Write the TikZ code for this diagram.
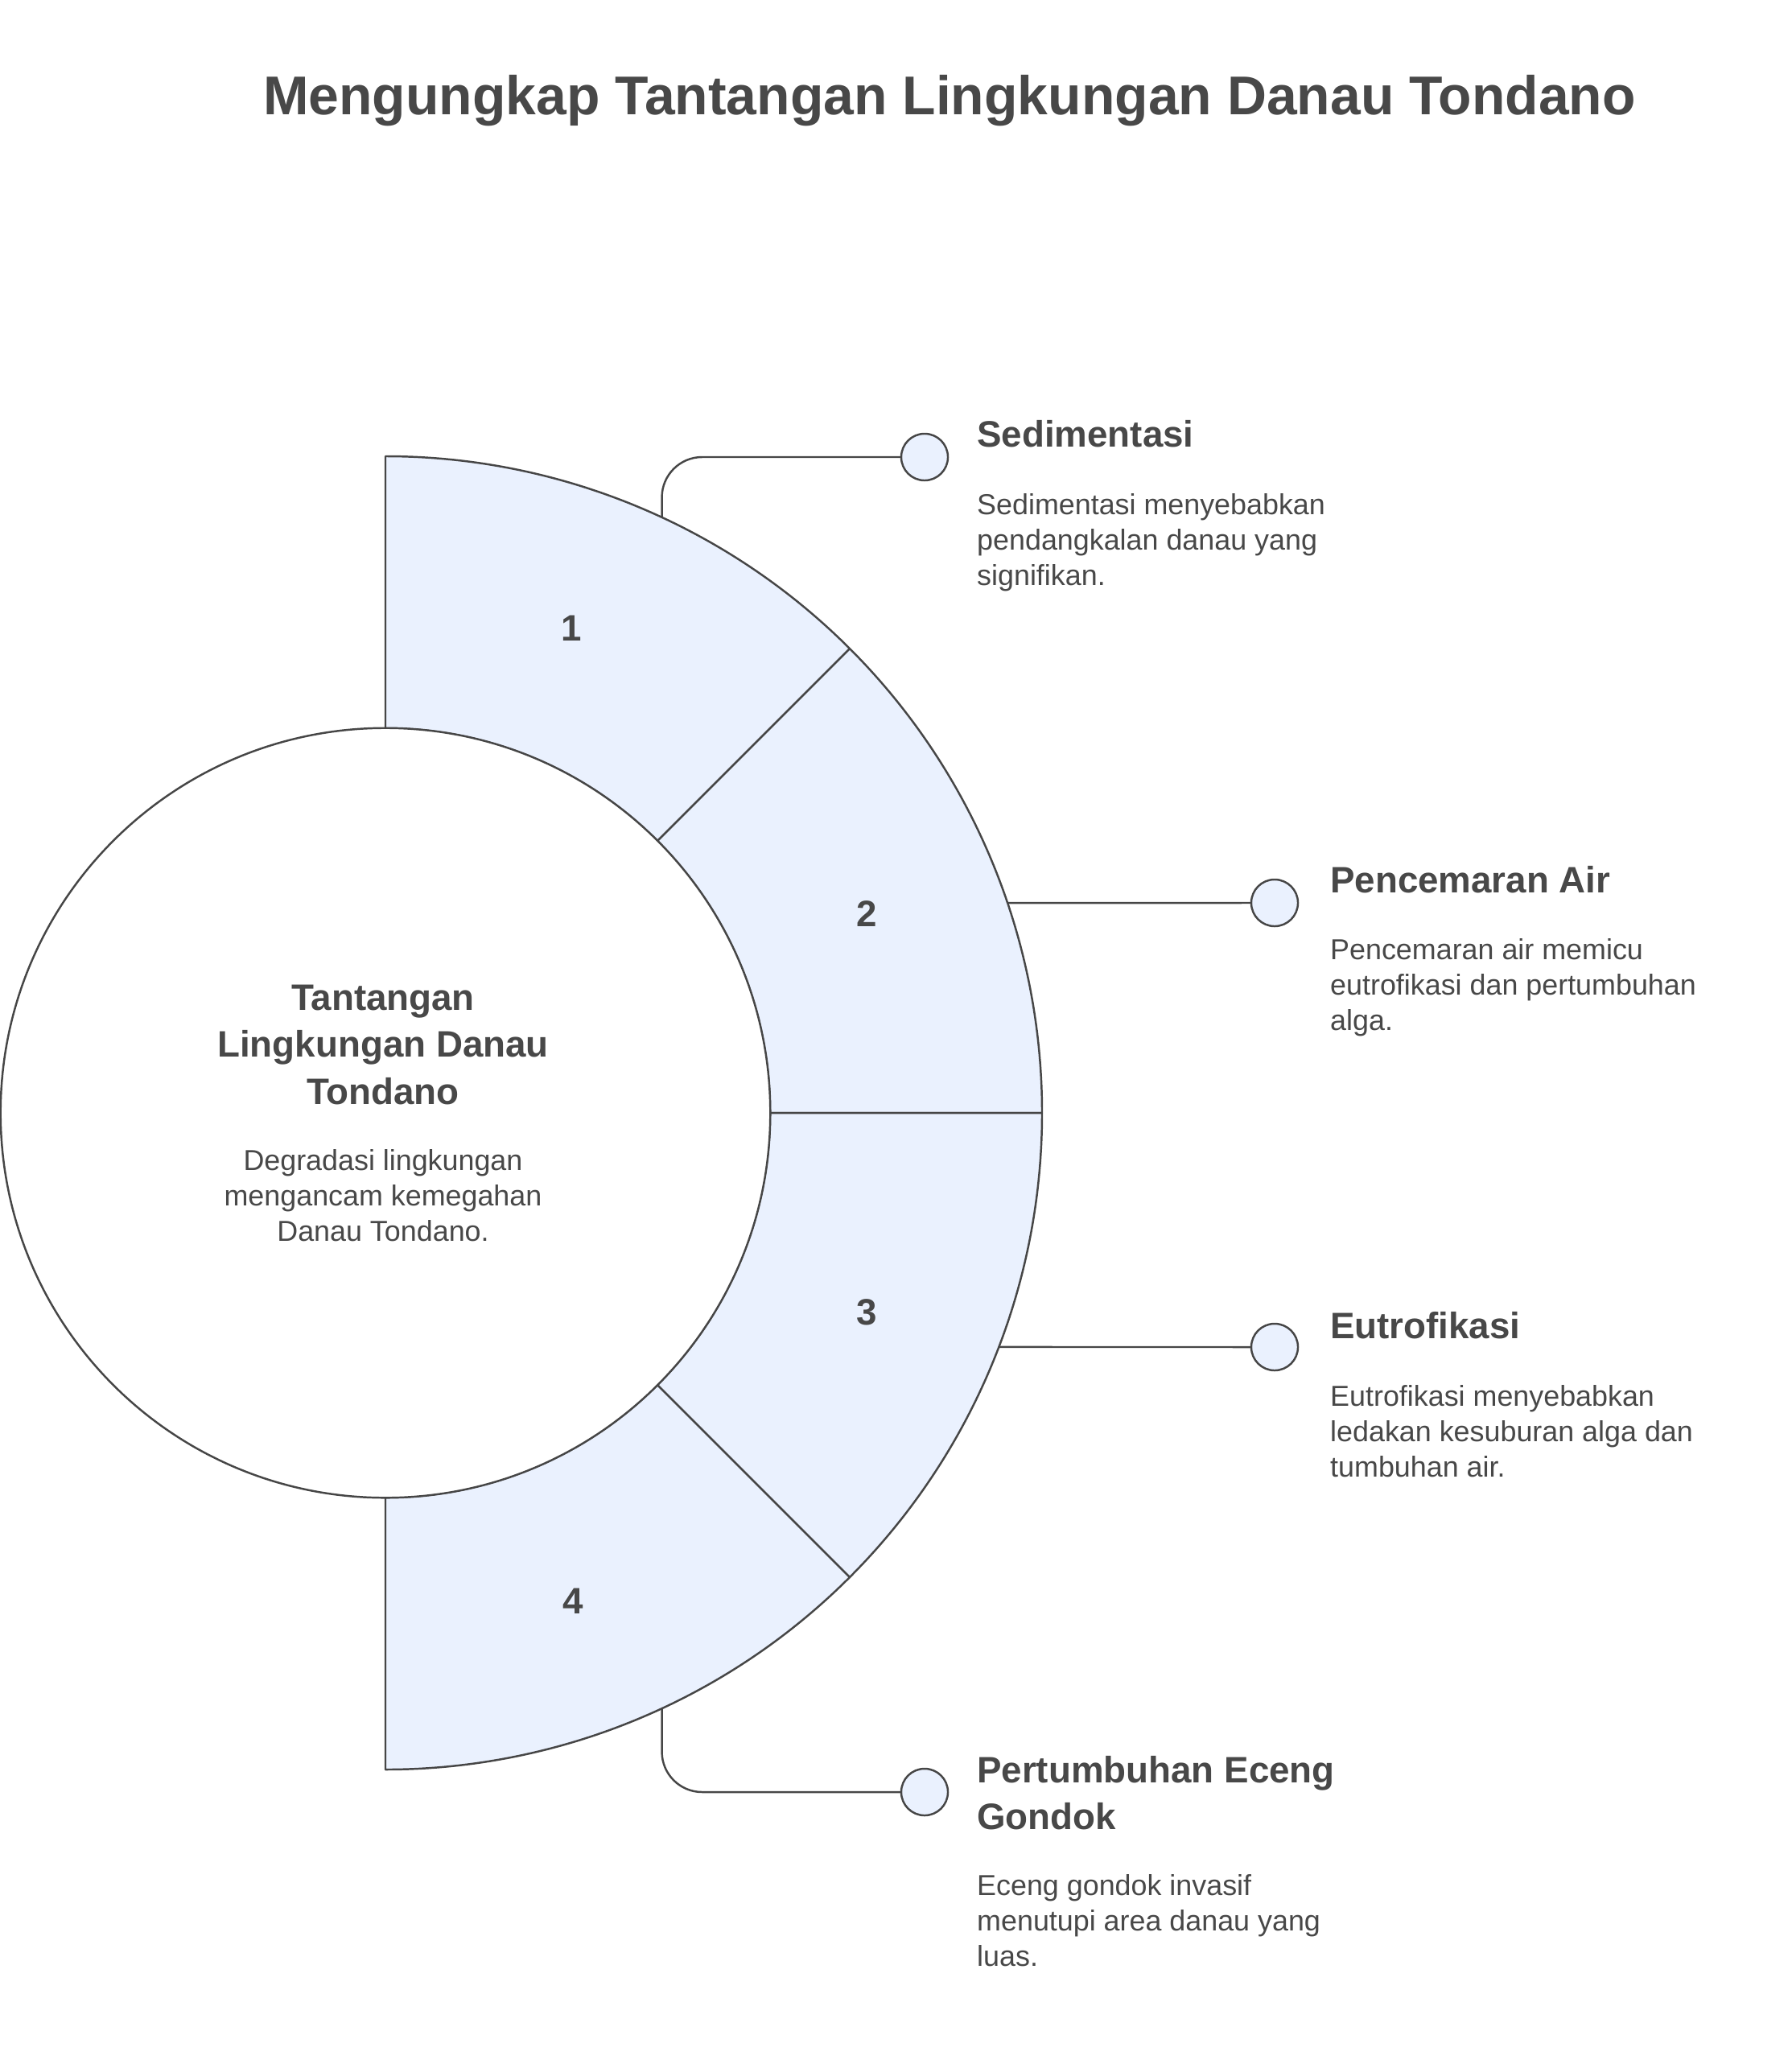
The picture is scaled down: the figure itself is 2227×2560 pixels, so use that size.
\documentclass[tikz,border=0pt]{standalone}
\usepackage{fontspec}
\setmainfont{Liberation Sans}
\usepackage{xcolor}
\usepackage{tikz}
\usetikzlibrary{calc,positioning}
\definecolor{inkgray}{RGB}{72,72,72}
\definecolor{linegray}{RGB}{70,70,70}
\definecolor{ringblue}{RGB}{234,241,254}

\begin{document}
\begin{tikzpicture}[x=0.01cm,y=0.01cm,line width=0.7pt,
  seg/.style={draw=linegray,fill=ringblue,line join=round},
  num/.style={text=inkgray,font=\fontsize{13}{16}\selectfont\bfseries},
  hub/.style={circle,draw=linegray,fill=white,minimum size=9.56cm,inner sep=0pt},
  dot/.style={circle,draw=linegray,fill=ringblue,minimum size=0.58cm,inner sep=0pt},
  wire/.style={draw=linegray,rounded corners=0.5cm},
  head/.style={anchor=base west,align=left,inner sep=0pt,text=inkgray,
               font=\fontsize{13}{16.5}\selectfont\bfseries},
  desc/.style={anchor=base west,align=left,inner sep=0pt,text=inkgray,
               font=\fontsize{10.2}{12.5}\selectfont}]
\useasboundingbox (0,0) rectangle (2227,-2560);
\coordinate (C) at (479,-1383);

% title
\node[anchor=base,inner sep=0pt,text=inkgray,font=\fontsize{19.3}{23}\selectfont\bfseries]
  (title) at (1180,-142) {Mengungkap Tantangan Lingkungan Danau Tondano};

% ring segments
\draw[seg] ($(C)+(90:478)$) arc[start angle=90,end angle=45,radius=478]
  -- ($(C)+(45:816)$) arc[start angle=45,end angle=90,radius=816] -- cycle;
\draw[seg] ($(C)+(45:478)$) arc[start angle=45,end angle=0,radius=478]
  -- ($(C)+(0:816)$) arc[start angle=0,end angle=45,radius=816] -- cycle;
\draw[seg] ($(C)+(0:478)$) arc[start angle=0,end angle=-45,radius=478]
  -- ($(C)+(-45:816)$) arc[start angle=-45,end angle=0,radius=816] -- cycle;
\draw[seg] ($(C)+(-45:478)$) arc[start angle=-45,end angle=-90,radius=478]
  -- ($(C)+(-90:816)$) arc[start angle=-90,end angle=-45,radius=816] -- cycle;

\node[num] (n1) at ($(C)+(69:645)$) {1};
\node[num] (n2) at ($(C)+(22.5:648)$) {2};
\node[num] (n3) at ($(C)+(-22.5:648)$) {3};
\node[num] (n4) at ($(C)+(-69:650)$) {4};

% centre circle
\node[hub] (hub) at (C) {};
\node[anchor=base,align=center,inner sep=0pt,text=inkgray,
      font=\fontsize{13}{16.5}\selectfont\bfseries]
  (hubtitle) at (476,-1372) {Tantangan\\Lingkungan Danau\\Tondano};
\node[anchor=base,align=center,inner sep=0pt,text=inkgray,
      font=\fontsize{10.2}{12.5}\selectfont]
  (hubdesc) at (476,-1542) {Degradasi lingkungan\\mengancam kemegahan\\Danau Tondano.};

% markers and connectors
\node[dot] (m1) at (1149,-568) {};
\node[dot] (m2) at (1584,-1122) {};
\node[dot] (m3) at (1584,-1674) {};
\node[dot] (m4) at (1149,-2227) {};
\coordinate (s1) at ($(C)+(65.1:816)$);
\coordinate (s2) at ($(C)+(18.65:816)$);
\coordinate (s3) at ($(C)+(-20.89:816)$);
\coordinate (s4) at ($(C)+(-65.1:816)$);
\draw[wire] (s1) |- (m1.west);
\draw[wire] (s2) -- (m2.west);
\draw[wire] (s3) -- (m3.west);
\draw[wire] (s4) |- (m4.west);

% labels
\node[head] (h1) at (1213,-555) {Sedimentasi};
\node[desc] (d1) at (1213,-727) {Sedimentasi menyebabkan\\pendangkalan danau yang\\signifikan.};
\node[head] (h2) at (1652,-1109) {Pencemaran Air};
\node[desc] (d2) at (1652,-1280) {Pencemaran air memicu\\eutrofikasi dan pertumbuhan\\alga.};
\node[head] (h3) at (1652,-1663) {Eutrofikasi};
\node[desc] (d3) at (1652,-1835) {Eutrofikasi menyebabkan\\ledakan kesuburan alga dan\\tumbuhan air.};
\node[head] (h4) at (1213,-2273) {Pertumbuhan Eceng\\Gondok};
\node[desc] (d4) at (1213,-2443) {Eceng gondok invasif\\menutupi area danau yang\\luas.};
\end{tikzpicture}
\end{document}
